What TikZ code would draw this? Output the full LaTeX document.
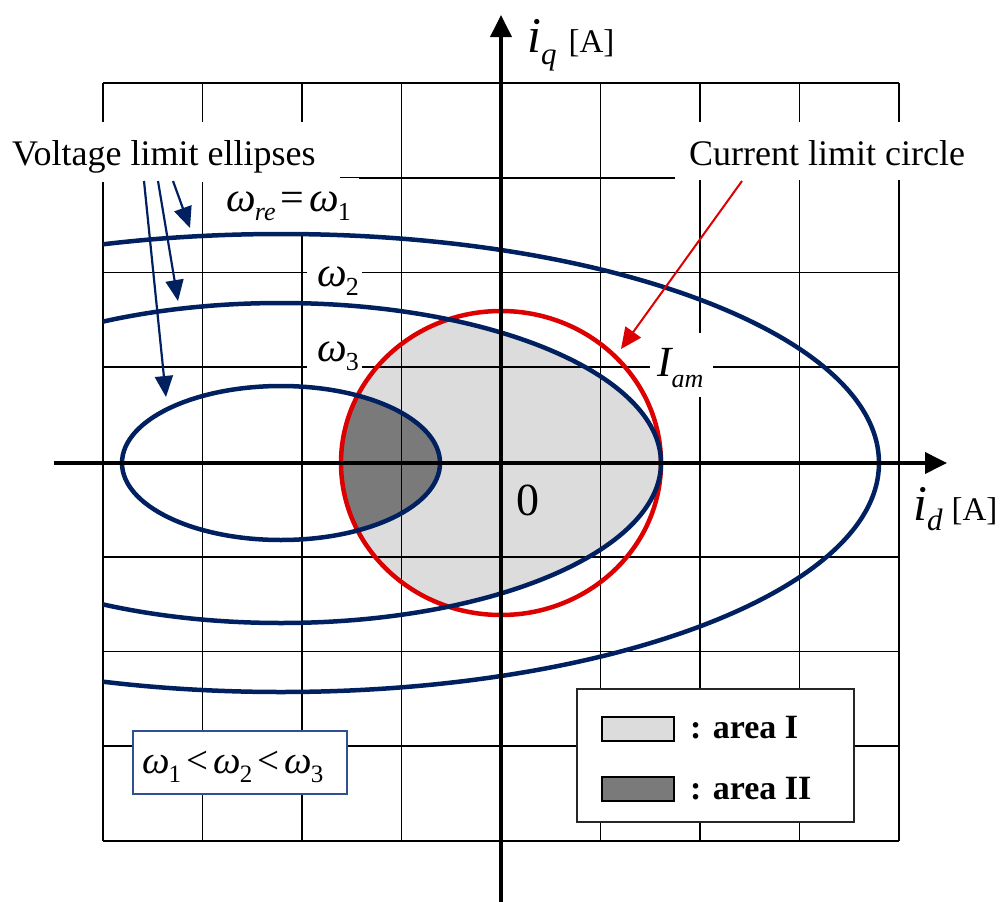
\documentclass[tikz,border=0pt]{standalone}
\usepackage{fontspec}
\setmainfont{Liberation Serif}
\usetikzlibrary{arrows.meta}
\definecolor{navy}{RGB}{0,32,96}
\definecolor{cred}{RGB}{220,0,0}
\definecolor{lgray}{RGB}{220,220,220}
\definecolor{dgray}{RGB}{122,122,122}
\definecolor{boxblue}{RGB}{47,82,143}
\newcommand{\fsz}[1]{\fontsize{#1}{#1}\selectfont}
\newcommand{\lowsub}[2]{\raisebox{-#1}{\fsz{26}#2}}
\newcommand{\rel}[1]{\upshape\hspace{5pt}#1\hspace{5pt}\itshape}
\tikzset{
  gridline/.style={line width=1.7pt, black},
  vcurve/.style={line width=4.5pt, navy},
  ccurve/.style={line width=4.5pt, cred},
  axisline/.style={line width=3.8pt, black, -{Triangle[length=22pt,width=21pt]}},
  bluearrow/.style={navy, line width=2.2pt, -{Triangle[length=21pt,width=18pt]}},
  redarrow/.style={cred, line width=2pt, -{Triangle[length=21pt,width=19pt]}},
  lbl/.style={inner sep=0pt, anchor=base west},
  maskbox/.style={fill=white, draw=none},
}
\begin{document}
\begin{tikzpicture}[x=1pt,y=-1pt]
\useasboundingbox (0,0) rectangle (1007,902);
% filled areas
\begin{scope}
  \clip (501,463) ellipse [x radius=160pt, y radius=152pt];
  \fill[lgray] (281,463) ellipse [x radius=380pt, y radius=160pt];
  \fill[dgray] (281,463) ellipse [x radius=159pt, y radius=77pt];
\end{scope}
% grid
\foreach \k in {0,...,8}{
  \draw[gridline] ({103+99.5*\k},83) -- ({103+99.5*\k},841);
  \draw[gridline] (103,{83+94.75*\k}) -- (899,{83+94.75*\k});
}
% masks behind labels
\fill[maskbox] (0,122) rectangle (340,182);
\fill[maskbox] (215,178) rectangle (359,232);
\fill[maskbox] (675,122) rectangle (1007,180);
\fill[maskbox] (307,255) rectangle (362,298);
\fill[maskbox] (307,340) rectangle (362,390);
\fill[maskbox] (650,333) rectangle (713,397);
% current limit circle
\draw[ccurve] (501,463) ellipse [x radius=160pt, y radius=152pt];
% voltage limit ellipses
\begin{scope}
  \clip (103,0) rectangle (1007,902);
  \draw[vcurve] (281,463) ellipse [x radius=159pt, y radius=77pt];
  \draw[vcurve] (281,463) ellipse [x radius=380pt, y radius=160pt];
  \draw[vcurve] (281,463) ellipse [x radius=598pt, y radius=229pt];
\end{scope}
% axes
\coordinate (xs) at (54,463);
\coordinate (xe) at (947,463);
\coordinate (ys) at (501,902);
\coordinate (ye) at (501,15);
\draw[axisline] (xs) -- (xe);
\draw[axisline] (ys) -- (ye);
% labels
\node[lbl] (vle) at (12,165) {\fsz{36}Voltage limit ellipses};
\node[lbl] (clc) at (689,165) {\fsz{36}Current limit circle};
\node[lbl] (w1) at (226,211) {\fsz{42}\itshape ω\hspace{-1pt}\lowsub{9pt}{re}\rel{=}ω\hspace{-1pt}\lowsub{9pt}{\upshape 1}};
\node[lbl] (w2) at (317,286) {\fsz{42}\itshape ω\hspace{-1pt}\lowsub{9pt}{\upshape 2}};
\node[lbl] (w3) at (317,361) {\fsz{42}\itshape ω\hspace{-1pt}\lowsub{9pt}{\upshape 3}};
\node[lbl] (iam) at (657,376) {\fsz{43}\itshape I\lowsub{11pt}{am}};
\node[lbl] (zero) at (516,515) {\fsz{46}0};
\node[lbl] (iq) at (527,52) {\fsz{50}\itshape i\raisebox{-13pt}{\fsz{31}q}\upshape\hspace{12pt}\fsz{33}[A]};
\node[lbl] (id) at (913,520) {\fsz{50}\itshape i\raisebox{-10pt}{\fsz{31}d}\upshape\hspace{9pt}\fsz{33}[A]};
% inequality box
\node[draw=boxblue, line width=1.5pt, fill=white, minimum width=214pt, minimum height=63pt, inner sep=0pt] (ineq) at (240,762.5) {};
\node[lbl] (ineqt) at (142,773) {\fsz{39}\itshape ω\hspace{-1pt}\lowsub{9pt}{\fsz{25}\upshape 1}\rel{<}ω\hspace{-1pt}\lowsub{9pt}{\fsz{25}\upshape 2}\rel{<}ω\hspace{-1pt}\lowsub{9pt}{\fsz{25}\upshape 3}};
% legend
\node[draw=black!85, line width=1.5pt, fill=white, minimum width=277pt, minimum height=133pt, inner sep=0pt] (legend) at (715.5,755.5) {};
\node[draw=black, line width=1.2pt, fill=lgray, minimum width=72pt, minimum height=24pt, inner sep=0pt] (sw1) at (638,729) {};
\node[draw=black, line width=1.2pt, fill=dgray, minimum width=72pt, minimum height=24pt, inner sep=0pt] (sw2) at (638,789) {};
\node[lbl] (a1) at (690,738) {\fsz{34}\bfseries : area I};
\node[lbl] (a2) at (690,799) {\fsz{34}\bfseries : area II};
% arrows
\coordinate (b1s) at (173,181); \coordinate (b1e) at (190,228);
\coordinate (b2s) at (158,181); \coordinate (b2e) at (178,301);
\coordinate (b3s) at (144,181); \coordinate (b3e) at (166,397);
\draw[bluearrow] (b1s) -- (b1e);
\draw[bluearrow] (b2s) -- (b2e);
\draw[bluearrow] (b3s) -- (b3e);
\coordinate (rs) at (742,181); \coordinate (re) at (621,349);
\draw[redarrow] (rs) -- (re);
\end{tikzpicture}
\end{document}
